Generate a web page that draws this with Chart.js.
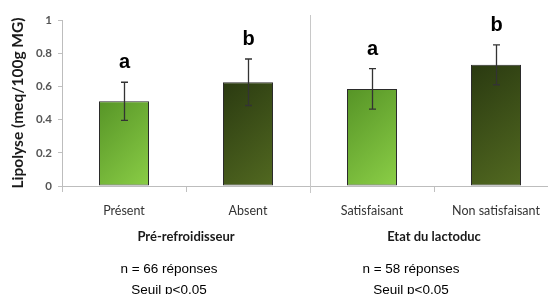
<!DOCTYPE html>
<html>
<head>
<meta charset="utf-8">
<script src="https://cdn.jsdelivr.net/npm/chart.js@4.4.0/dist/chart.umd.min.js"></script>
<style>
html,body{margin:0;padding:0;background:#fff;overflow:hidden;width:548px;height:294px;}
#wrap{position:relative;width:570px;height:294px;}
</style>
</head>
<body>
<div id="wrap"><canvas id="c" width="570" height="294"></canvas></div>
<script>
const categories = ['Présent', 'Absent', 'Satisfaisant', 'Non satisfaisant'];
const lipolyse = [0.51, 0.625, 0.585, 0.73];
const errors = [0.115, 0.14, 0.122, 0.12];
const letters = ['a', 'b', 'a', 'b'];
const groups = ['Pré-refroidisseur', 'Etat du lactoduc'];
const notes = [['n = 66 réponses', 'Seuil p<0.05'], ['n = 58 réponses', 'Seuil p<0.05']];
const yTicks = [0, 0.2, 0.4, 0.6, 0.8, 1];
const lightBar = ['#4f8c22', '#92d64b'];
const darkBar = ['#26350f', '#566e22'];

function barGradient(ctx) {
  const chart = ctx.chart;
  const i = ctx.dataIndex;
  const cols = (i % 2 === 0) ? lightBar : darkBar;
  if (!chart.chartArea || !chart.scales.x || !chart.scales.y) return cols[1];
  const xs = chart.scales.x, ys = chart.scales.y;
  const cx = xs.getPixelForValue(i);
  const half = 25;
  const top = ys.getPixelForValue(lipolyse[i]);
  const bottom = ys.getPixelForValue(0);
  const g = chart.ctx.createLinearGradient(cx - half - 20, top, cx + half + 20, bottom);
  g.addColorStop(0, cols[0]);
  g.addColorStop(1, cols[1]);
  return g;
}

const extras = {
  id: 'extras',
  afterDatasetsDraw(chart) {
    const c = chart.ctx, xs = chart.scales.x, ys = chart.scales.y;
    c.save();
    // separator line
    const sepX = Math.round((xs.getPixelForValue(1) + xs.getPixelForValue(2)) / 2) + 0.5;
    c.strokeStyle = '#c8c8c8';
    c.lineWidth = 1;
    c.beginPath();
    c.moveTo(sepX, ys.getPixelForValue(1) - 5);
    c.lineTo(sepX, ys.getPixelForValue(0) + 7);
    c.stroke();
    // error bars
    c.strokeStyle = '#333';
    c.lineWidth = 1.3;
    lipolyse.forEach((v, i) => {
      const x = Math.round(xs.getPixelForValue(i)) + 0.5;
      const yt = ys.getPixelForValue(v + errors[i]);
      const yb = ys.getPixelForValue(v - errors[i]);
      c.beginPath();
      c.moveTo(x, yt); c.lineTo(x, yb);
      c.moveTo(x - 3.5, yt); c.lineTo(x + 3.5, yt);
      c.moveTo(x - 3.5, yb); c.lineTo(x + 3.5, yb);
      c.stroke();
      // letters
      c.fillStyle = '#000';
      c.font = 'bold 20px "Liberation Sans", Arial, sans-serif';
      c.textAlign = 'center';
      c.textBaseline = 'alphabetic';
      c.fillText(letters[i], x, yt - 14);
    });
    // group labels
    const base = ys.getPixelForValue(0);
    c.fillStyle = '#1a1a1a';
    c.font = 'bold 13px Lato, "Open Sans", sans-serif';
    c.textAlign = 'center';
    c.textBaseline = 'middle';
    const g1 = (xs.getPixelForValue(0) + xs.getPixelForValue(1)) / 2;
    const g2 = (xs.getPixelForValue(2) + xs.getPixelForValue(3)) / 2;
    c.fillText(groups[0], g1, base + 51);
    c.fillText(groups[1], g2, base + 51);
    // notes
    c.fillStyle = '#000';
    c.font = '13.5px "Liberation Sans", Arial, sans-serif';
    const n1 = g1 - 17, n2 = g2 - 23;
    c.fillText(notes[0][0], n1, base + 83);
    c.fillText(notes[0][1], n1, base + 104);
    c.fillText(notes[1][0], n2, base + 83);
    c.fillText(notes[1][1], n2, base + 104);
    c.restore();
  }
};

new Chart(document.getElementById('c'), {
  type: 'bar',
  data: {
    labels: categories,
    datasets: [{
      data: lipolyse,
      backgroundColor: barGradient,
      borderColor: '#2b2b2b',
      borderWidth: 1,
      borderSkipped: false,
      categoryPercentage: 1,
      barPercentage: 50 / 124
    }]
  },
  options: {
    responsive: false,
    animation: false,
    devicePixelRatio: 1,
    layout: { padding: { left: 0, right: 12, top: 20, bottom: 0 } },
    plugins: { legend: { display: false }, tooltip: { enabled: false } },
    scales: {
      x: {
        afterFit: s => { s.height = 108; },
        grid: { drawOnChartArea: false, offset: true, tickLength: 6, color: '#c0c0c0' },
        border: { color: '#bdbdbd' },
        ticks: {
          color: '#333',
          padding: 11,
          font: { family: 'Lato, "Open Sans", sans-serif', size: 12.5 }
        }
      },
      y: {
        min: 0, max: 1,
        afterFit: s => { s.width = 62; },
        afterBuildTicks: s => { s.ticks = yTicks.map(v => ({ value: v })); },
        grid: { drawOnChartArea: false, tickLength: 4, color: '#c0c0c0' },
        border: { color: '#bdbdbd' },
        ticks: {
          color: '#555',
          padding: 6,
          font: { family: 'Lato, "Open Sans", sans-serif', size: 11.5, weight: 'bold' },
          callback: v => String(v)
        },
        title: {
          display: true,
          text: 'Lipolyse (meq/100g MG)',
          color: '#1a1a1a',
          padding: { top: 9, bottom: 0 },
          font: { family: 'Lato, "Open Sans", sans-serif', size: 15.5, weight: 'bold' }
        }
      }
    }
  },
  plugins: [extras]
});
</script>
</body>
</html>
